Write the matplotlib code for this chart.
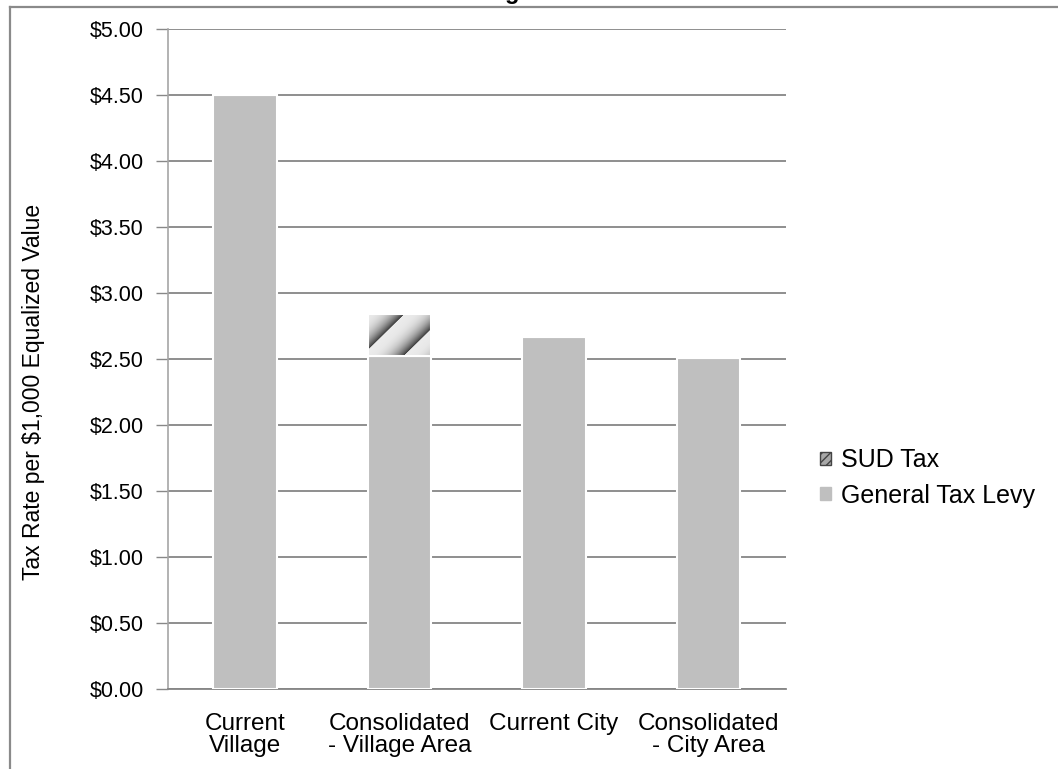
import numpy as np
import matplotlib
matplotlib.use("Agg")
import matplotlib.pyplot as plt
import matplotlib.patches as patches
from matplotlib.lines import Line2D

plt.rcParams['font.family'] = ['Liberation Sans', 'DejaVu Sans']

categories = ["Current\nVillage", "Consolidated\n- Village Area", "Current City", "Consolidated\n- City Area"]
general_levy = [4.50, 2.52, 2.67, 2.51]
sud_tax = [0.0, 0.32, 0.0, 0.0]
y_ticks = [0.0, 0.5, 1.0, 1.5, 2.0, 2.5, 3.0, 3.5, 4.0, 4.5, 5.0]

W, H = 1058, 769
fig = plt.figure(figsize=(W / 100, H / 100), dpi=100)
ax = fig.add_axes([167.5 / W, 1 - 689 / H, (786 - 167.5) / W, (689 - 29) / H])

x = np.arange(len(categories))
bar_w = 0.41
gray = '#bfbfbf'

# general tax levy bars
ax.bar(x, general_levy, width=bar_w, color=gray, edgecolor='white', linewidth=1.5, zorder=3)

# SUD tax on top, textured
sud_bars = ax.bar(x, sud_tax, width=bar_w, bottom=general_levy, color='#a8a8a8',
                  edgecolor='white', linewidth=1.5, zorder=3)
for rect, val in zip(sud_bars, sud_tax):
    if val <= 0:
        continue
    x0, y0 = rect.get_x(), rect.get_y()
    w, h = rect.get_width(), rect.get_height()
    ii, jj = np.meshgrid(np.arange(64), np.arange(44))
    phase = ((ii - jj + 6) / 42.0) % 1.0
    tex = 0.92 - 0.72 * phase ** 3
    im = ax.imshow(tex, cmap='gray', vmin=0, vmax=1, origin='lower',
                   extent=[x0, x0 + w, y0, y0 + h], aspect='auto', zorder=4,
                   interpolation='bilinear')
    im.set_clip_path(rect)
    ax.add_patch(patches.Rectangle((x0, y0), w, h, fill=False, edgecolor='white',
                                   linewidth=1.5, zorder=5))

ax.set_xlim(-0.5, len(categories) - 0.5)
ax.set_ylim(0, 5.0)
ax.set_yticks(y_ticks)
ax.set_yticklabels(['${:.2f}'.format(v) for v in y_ticks], fontsize=15.5)
ax.set_xticks(x)
ax.set_xticklabels(categories, fontsize=17.5, linespacing=1.05)
ax.tick_params(axis='x', length=0, pad=17)
ax.tick_params(axis='y', length=9, width=1, color='#888888', pad=8)
ax.yaxis.grid(True, color='#868686', linewidth=1.3, zorder=0)
ax.set_axisbelow(True)

for s in ['top', 'right']:
    ax.spines[s].set_visible(False)
ax.spines['left'].set_color('#a6a6a6')
ax.spines['left'].set_linewidth(1.2)
ax.spines['bottom'].set_color('#868686')
ax.spines['bottom'].set_linewidth(1.3)

ax.set_ylabel('Tax Rate per $1,000 Equalized Value', fontsize=16.5)
ax.yaxis.set_label_coords(-(167.5 - 45) / (786 - 167.5), 1 - (392 - 29) / 660)

handles = [
    patches.Patch(facecolor='#a8a8a8', edgecolor='#444444', hatch='////', label='SUD Tax'),
    patches.Patch(facecolor=gray, edgecolor=gray, label='General Tax Levy'),
]
fig.legend(handles=handles, loc='center left', bbox_to_anchor=(797 / W, 1 - 478 / H),
           frameon=False, fontsize=18, handlelength=0.45, handleheight=0.45,
           handletextpad=0.4, labelspacing=0.45)

# outer chart frame (partially visible)
fig.add_artist(Line2D([10 / W, 1.0], [1 - 7 / H, 1 - 7 / H], color='#8a8a8a', linewidth=1.6))
fig.add_artist(Line2D([10 / W, 10 / W], [0.0, 1 - 7 / H], color='#8a8a8a', linewidth=1.6))

# title, cut off at the top as in the original
fig.text(530 / W, 1.0 + 1 / H, 'Figure 3', ha='center', va='baseline', fontsize=17,
         fontweight='bold')

fig.savefig('out.png', dpi=100)
